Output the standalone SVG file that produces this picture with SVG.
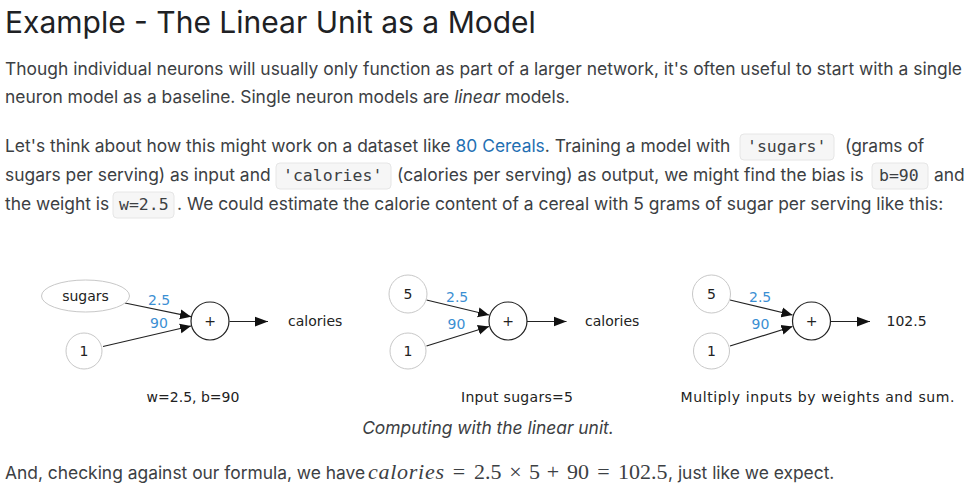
<svg xmlns="http://www.w3.org/2000/svg" width="977" height="499" viewBox="0 0 977 499">
<defs>
<style>
.title{font-family:Inter,"Noto Sans",sans-serif;font-size:30px;fill:#202124}
.body{font-family:Inter,"Noto Sans",sans-serif;font-size:17.4px;fill:#3c4043}
.link{fill:#1f6fb2}
.code{font-family:"DejaVu Sans Mono","Liberation Mono",monospace;font-size:16.5px;fill:#3c4043}
.cbox{fill:#f6f6f6;stroke:#e6e6e6;stroke-width:1}
.lbl{font-family:"DejaVu Sans","Noto Sans",sans-serif;font-size:14px;fill:#222}
.w{font-family:"DejaVu Sans","Noto Sans",sans-serif;font-size:14px;fill:#3b8fd3}
.in{fill:#fff;stroke:#c8c8c8;stroke-width:1}
.sum{fill:#fff;stroke:#222;stroke-width:1.2}
.edge{stroke:#222;stroke-width:1.2;fill:none}
.math{font-family:"Liberation Serif","DejaVu Serif",serif;font-size:22px;fill:#3c4043}
</style>
<marker id="ah" viewBox="0 0 10 10" refX="10" refY="5" markerWidth="11" markerHeight="11" markerUnits="userSpaceOnUse" orient="auto">
<path d="M0,0.5 L10,5 L0,9.5 Z" fill="#111"/>
</marker>
<marker id="ah2" viewBox="0 0 12 10" refX="12" refY="5" markerWidth="13" markerHeight="11" markerUnits="userSpaceOnUse" orient="auto">
<path d="M0,0.5 L12,5 L0,9.5 Z" fill="#111"/>
</marker>
</defs>
<rect width="977" height="499" fill="#fff"/>

<g id="text-top">
<text class="title" x="5" y="33">Example - The Linear Unit as a Model</text>
<text class="body" x="5" y="75" textLength="957" lengthAdjust="spacing">Though individual neurons will usually only function as part of a larger network, it's often useful to start with a single</text>
<text class="body" x="5" y="103">neuron model as a baseline. Single neuron models are <tspan font-style="italic">linear</tspan> models.</text>

<rect class="cbox" x="740" y="134" width="94" height="26" rx="4"/>
<rect class="cbox" x="276" y="163" width="115" height="26" rx="4"/>
<rect class="cbox" x="872" y="163" width="56" height="26" rx="4"/>
<rect class="cbox" x="113" y="192" width="61" height="26" rx="4"/>

<text class="body" x="5" y="152">Let's think about how this might work on a dataset like <tspan class="link">80 Cereals</tspan>. Training a model with</text>
<text class="code" x="747" y="152">'sugars'</text>
<text class="body" x="845" y="152">(grams of</text>

<text class="body" x="5" y="181">sugars per serving) as input and</text>
<text class="code" x="283" y="181">'calories'</text>
<text class="body" x="397" y="181">(calories per serving) as output, we might find the bias is</text>
<text class="code" x="879" y="181">b=90</text>
<text class="body" x="934" y="181">and</text>

<text class="body" x="5" y="210">the weight is</text>
<text class="code" x="119" y="210">w=2.5</text>
<text class="body" x="177" y="210">. We could estimate the calorie content of a cereal with 5 grams of sugar per serving like this:</text>
</g>

<g id="connectors">
<line class="edge" x1="125" y1="303" x2="191" y2="316.7" marker-end="url(#ah)"/>
<line class="edge" x1="103" y1="346.5" x2="191" y2="326" marker-end="url(#ah)"/>
<line class="edge" x1="229.5" y1="321.5" x2="268" y2="321.5" marker-end="url(#ah2)"/>

<line class="edge" x1="426.5" y1="300" x2="489" y2="315" marker-end="url(#ah)"/>
<line class="edge" x1="426.5" y1="346" x2="489" y2="326.5" marker-end="url(#ah)"/>
<line class="edge" x1="527" y1="321.5" x2="566.5" y2="321.5" marker-end="url(#ah2)"/>

<line class="edge" x1="730" y1="300" x2="792.5" y2="315" marker-end="url(#ah)"/>
<line class="edge" x1="730" y1="346" x2="792.5" y2="326.5" marker-end="url(#ah)"/>
<line class="edge" x1="830.5" y1="321.5" x2="870" y2="321.5" marker-end="url(#ah2)"/>
</g>

<g id="d1-sugars"><ellipse class="in" cx="85.5" cy="296" rx="44" ry="16"/><text class="lbl" x="85.5" y="301" text-anchor="middle">sugars</text></g>
<g id="d1-one"><circle class="in" cx="84" cy="351" r="18"/><text class="lbl" x="84" y="356" text-anchor="middle">1</text></g>
<g id="d1-sum"><circle class="sum" cx="210" cy="321" r="19"/><text class="lbl" x="210" y="326" text-anchor="middle">+</text></g>
<g id="d1-out"><text class="lbl" x="288" y="326">calories</text></g>
<g id="d1-weights"><text class="w" x="148" y="305">2.5</text><text class="w" x="150" y="328">90</text></g>
<g id="d1-caption"><text class="lbl" x="193" y="402" text-anchor="middle">w=2.5, b=90</text></g>

<g id="d2-five"><circle class="in" cx="408" cy="294" r="19"/><text class="lbl" x="408" y="299" text-anchor="middle">5</text></g>
<g id="d2-one"><circle class="in" cx="408" cy="351" r="18"/><text class="lbl" x="408" y="356" text-anchor="middle">1</text></g>
<g id="d2-sum"><circle class="sum" cx="508" cy="321" r="19"/><text class="lbl" x="508" y="326" text-anchor="middle">+</text></g>
<g id="d2-out"><text class="lbl" x="585" y="326">calories</text></g>
<g id="d2-weights"><text class="w" x="446" y="301.5">2.5</text><text class="w" x="447.5" y="329">90</text></g>
<g id="d2-caption"><text class="lbl" x="461" y="402" textLength="112" lengthAdjust="spacing">Input sugars=5</text></g>

<g id="d3-five"><circle class="in" cx="711.5" cy="294" r="19"/><text class="lbl" x="711.5" y="299" text-anchor="middle">5</text></g>
<g id="d3-one"><circle class="in" cx="711.5" cy="351" r="18"/><text class="lbl" x="711.5" y="356" text-anchor="middle">1</text></g>
<g id="d3-sum"><circle class="sum" cx="811.5" cy="321" r="19"/><text class="lbl" x="811.5" y="326" text-anchor="middle">+</text></g>
<g id="d3-out"><text class="lbl" x="886.5" y="326">102.5</text></g>
<g id="d3-weights"><text class="w" x="749" y="301.5">2.5</text><text class="w" x="751.5" y="329">90</text></g>
<g id="d3-caption"><text class="lbl" x="680.5" y="402" textLength="274" lengthAdjust="spacing">Multiply inputs by weights and sum.</text></g>

<g id="text-bottom">
<text class="body" x="488" y="434" text-anchor="middle" font-style="italic">Computing with the linear unit.</text>
<text class="body" x="5" y="479">And, checking against our formula, we have</text>
<g class="math">
<text x="368" y="479" font-style="italic" textLength="76" lengthAdjust="spacing">calories</text>
<text x="459" y="479" text-anchor="middle">=</text>
<text x="474" y="479">2.5</text>
<text x="515.5" y="479" text-anchor="middle">×</text>
<text x="529" y="479">5</text>
<text x="553" y="479" text-anchor="middle">+</text>
<text x="567" y="479">90</text>
<text x="603.5" y="479" text-anchor="middle">=</text>
<text x="618" y="479">102.5</text>
</g>
<text class="body" x="668" y="479">, just like we expect.</text>
</g>
</svg>
